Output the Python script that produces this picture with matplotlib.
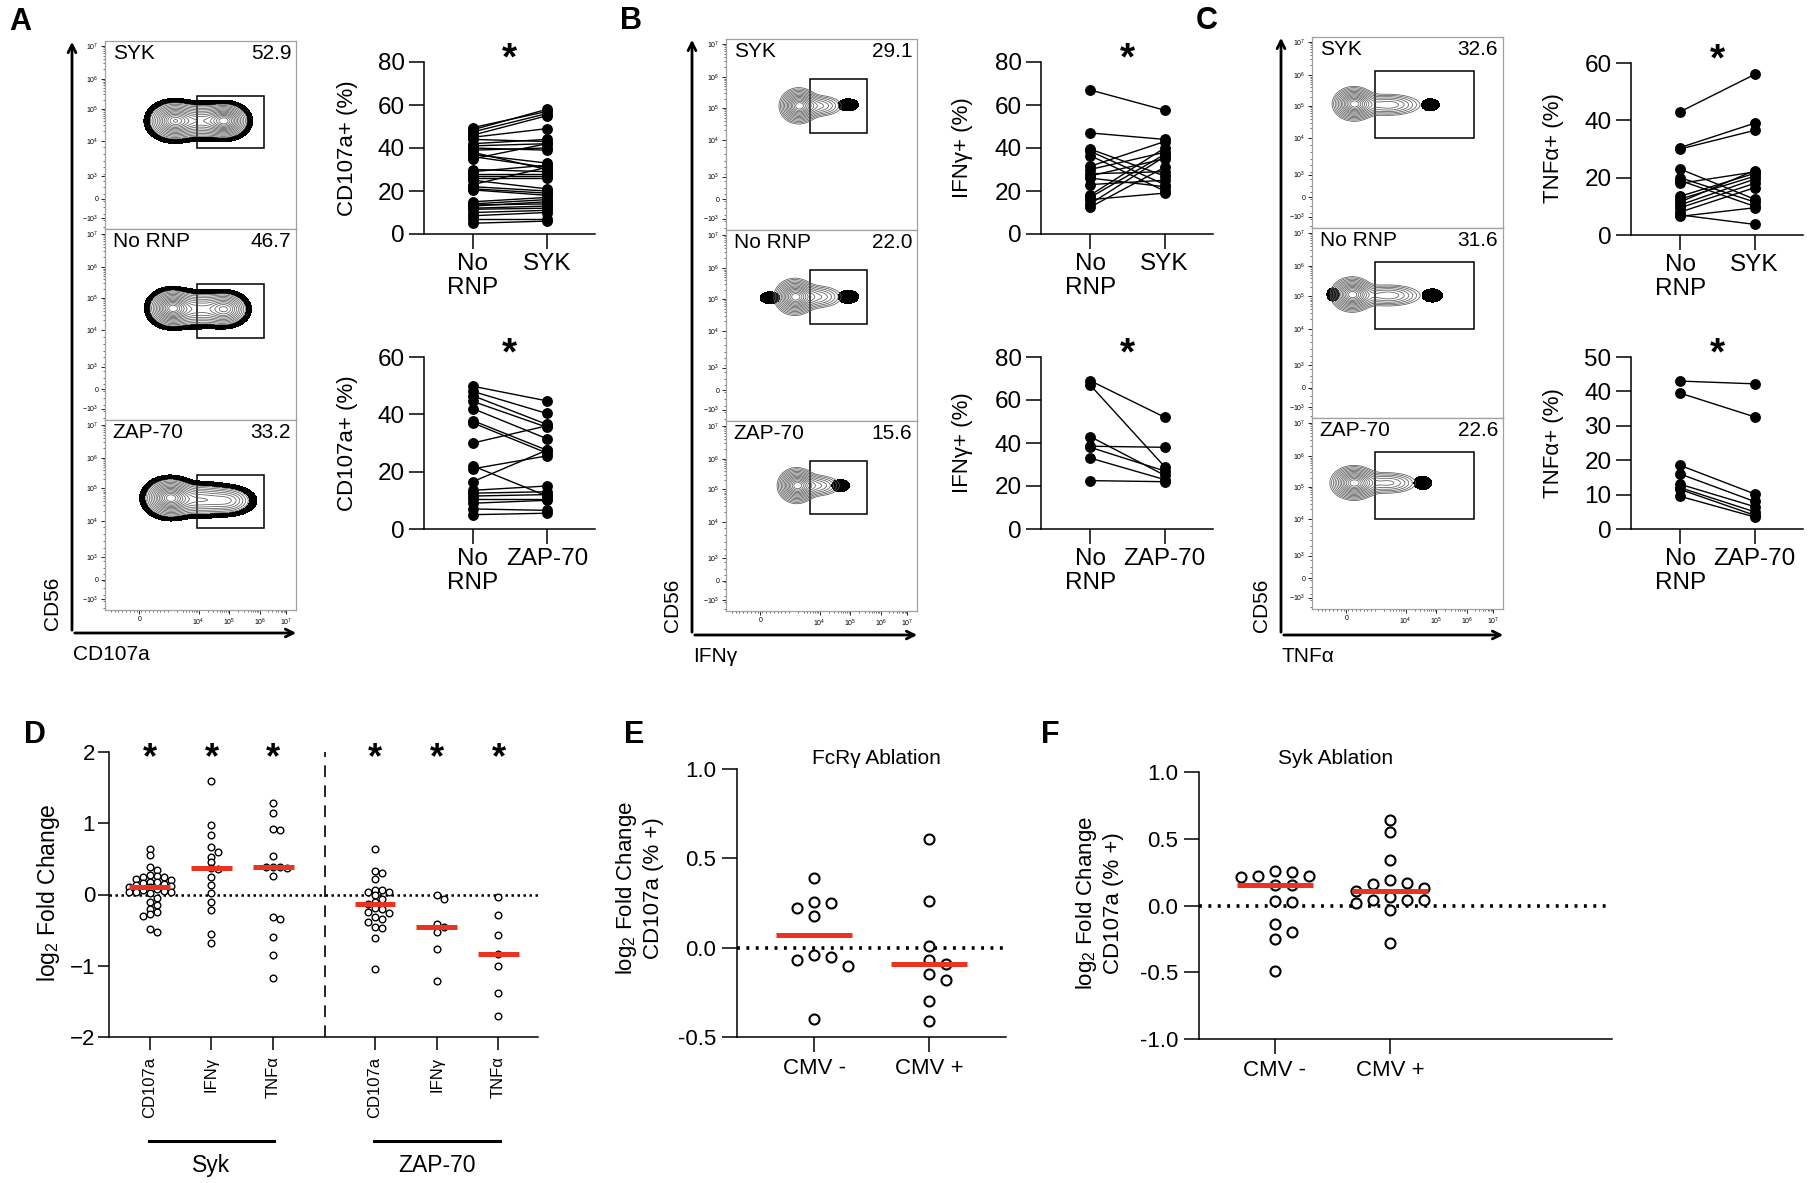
import numpy as np
import matplotlib
matplotlib.use("Agg")
import matplotlib.pyplot as plt
from matplotlib.patches import Rectangle, FancyArrowPatch
from matplotlib.ticker import FormatStrFormatter

plt.rcParams['font.family'] = ['Liberation Sans', 'DejaVu Sans']
plt.rcParams['mathtext.fontset'] = 'custom'
plt.rcParams['mathtext.rm'] = 'Liberation Sans'
plt.rcParams['mathtext.it'] = 'Liberation Sans:italic'
plt.rcParams['mathtext.bf'] = 'Liberation Sans:bold'

# ---- paired data (% positive) ----
cd107_syk_norp = [49.5, 48.5, 47.5, 46, 45, 44, 42, 41, 40, 39, 38, 37, 36, 35, 30, 29, 28,
                  27, 26, 25, 23, 22, 21, 20.5, 15, 14, 13.5, 13, 12, 11.5, 10, 8.5, 7, 5]
cd107_syk_syk = [57, 58, 56, 55, 49, 43, 44, 42, 39, 40, 30, 33, 31, 42, 29, 32, 28,
                 27, 26, 21, 31, 20, 19, 18, 17, 16, 14, 15, 13, 12, 11, 10, 7, 6]
cd107_zap_norp = [49.8, 48, 46.5, 44.5, 42, 37.8, 37, 30, 22, 21, 16.5, 13.5, 12.5, 11.5, 10.5, 9, 7, 5]
cd107_zap_zap = [44.7, 40.3, 36.5, 35.5, 31.5, 27.5, 26.5, 36, 11.5, 25.5, 27.5, 15, 13, 12, 10.5, 10, 6.5, 5.5]

ifng_syk_norp = [67, 47, 39.5, 38.5, 36.5, 31.5, 30, 28, 27, 26, 23, 18, 17, 16, 14, 12.5]
ifng_syk_syk = [57.6, 44, 27, 23, 20, 43, 38, 29, 35, 22, 25, 40, 37, 19, 36, 31]
ifng_zap_norp = [69, 67, 43, 38.5, 38, 33, 22.5]
ifng_zap_zap = [52, 29, 25, 38, 27, 23, 22]

tnfa_syk_norp = [43, 30.5, 30, 23, 20, 19, 18, 13.5, 12.5, 11.5, 10.5, 9.5, 8, 7, 6.5]
tnfa_syk_syk = [56, 39, 36.5, 12.5, 11.5, 10, 22, 21.5, 20.5, 22.5, 19.5, 18, 16.5, 3.7, 9.5]
tnfa_zap_norp = [43, 39.5, 18.5, 16, 13, 12, 11.5, 9.5]
tnfa_zap_zap = [42.2, 32.6, 10.2, 8, 6.5, 5, 4, 3.5]

# ---- panel D, log2 fold change ----
d_labels = ['CD107a', 'IFN\u03b3', 'TNF\u03b1', 'CD107a', 'IFN\u03b3', 'TNF\u03b1']
d_syk_cd107a = [0.64, 0.56, 0.38, 0.34, 0.27, 0.26, 0.25, 0.24, 0.22, 0.20, 0.18, 0.17, 0.16, 0.15,
                0.14, 0.12, 0.11, 0.10, 0.08, 0.06, 0.05, 0.04, 0.03, 0.03, 0.02, -0.05, -0.10,
                -0.15, -0.20, -0.25, -0.28, -0.30, -0.48, -0.53]
d_syk_ifng = [1.59, 0.97, 0.83, 0.67, 0.60, 0.53, 0.45, 0.37, 0.36, 0.24, 0.13, 0.02, -0.10, -0.22, -0.55, -0.68]
d_syk_tnfa = [1.28, 1.15, 0.92, 0.91, 0.54, 0.38, 0.38, 0.38, 0.37, 0.26, -0.31, -0.34, -0.60, -0.85, -1.17]
d_zap_cd107a = [0.64, 0.33, 0.30, 0.22, 0.07, 0.06, 0.04, 0.04, -0.01, -0.06, -0.11, -0.13, -0.19,
                -0.20, -0.25, -0.26, -0.32, -0.34, -0.39, -0.46, -0.47, -0.61, -1.04]
d_zap_ifng = [0.0, -0.06, -0.42, -0.46, -0.52, -0.76, -1.21]
d_zap_tnfa = [-0.03, -0.29, -0.57, -0.83, -1.0, -1.38, -1.71]

# ---- panels E, F ----
cmv_labels = ['CMV -', 'CMV +']
e_cmv_neg = [0.39, 0.255, 0.25, 0.22, 0.18, -0.04, -0.05, -0.07, -0.10, -0.40]
e_cmv_pos = [0.61, 0.26, 0.01, -0.07, -0.09, -0.15, -0.18, -0.30, -0.41]
f_cmv_neg = [0.26, 0.25, 0.22, 0.22, 0.21, 0.15, 0.15, 0.03, 0.025, -0.14, -0.20, -0.25, -0.49]
f_cmv_pos = [0.64, 0.55, 0.34, 0.19, 0.17, 0.16, 0.13, 0.11, 0.06, 0.04, 0.04, 0.04, 0.02, -0.03, -0.28]

# ---- flow plots: percentages and population shapes (x, y, sx, sy, weight) ----
flow_names = ['SYK', 'No RNP', 'ZAP-70']
a_pct = ['52.9', '46.7', '33.2']
b_pct = ['29.1', '22.0', '15.6']
c_pct = ['32.6', '31.6', '22.6']
a_blobs = [
    [(0.36, 0.575, 0.055, 0.042, 1.0), (0.50, 0.575, 0.075, 0.040, 0.6), (0.63, 0.575, 0.05, 0.038, 1.05)],
    [(0.35, 0.585, 0.05, 0.040, 1.2), (0.49, 0.580, 0.08, 0.040, 0.55), (0.63, 0.58, 0.05, 0.037, 0.8)],
    [(0.34, 0.590, 0.055, 0.042, 1.3), (0.50, 0.580, 0.09, 0.038, 0.55), (0.65, 0.575, 0.06, 0.033, 0.35)],
]
b_blobs = [
    [(0.38, 0.65, 0.045, 0.042, 1.0), (0.49, 0.65, 0.065, 0.03, 0.35)],
    [(0.36, 0.65, 0.048, 0.043, 1.0), (0.48, 0.65, 0.07, 0.032, 0.35)],
    [(0.37, 0.66, 0.045, 0.042, 1.0), (0.48, 0.66, 0.065, 0.03, 0.35)],
]
b_dots = [
    [(0.64, 0.655, 0.037, 0.022, 1.0)],
    [(0.64, 0.65, 0.037, 0.024, 1.0), (0.23, 0.645, 0.035, 0.022, 1.0)],
    [(0.60, 0.66, 0.032, 0.022, 1.0)],
]
c_blobs = [
    [(0.22, 0.65, 0.05, 0.04, 1.0), (0.40, 0.645, 0.09, 0.03, 0.4)],
    [(0.21, 0.65, 0.05, 0.041, 1.0), (0.40, 0.645, 0.09, 0.03, 0.4)],
    [(0.22, 0.66, 0.055, 0.04, 1.0), (0.40, 0.66, 0.08, 0.03, 0.35)],
]
c_dots = [
    [(0.62, 0.645, 0.032, 0.022, 1.0)],
    [(0.63, 0.645, 0.037, 0.024, 1.0), (0.11, 0.65, 0.022, 0.024, 1.0)],
    [(0.58, 0.66, 0.032, 0.024, 1.0)],
]

W, H = 1810, 1183
fig = plt.figure(figsize=(W / 100, H / 100), dpi=100)


def px_axes(l, t, r, b):
    return fig.add_axes([l / W, 1 - b / H, (r - l) / W, (b - t) / H])


def ftext(x, y, s, **kw):
    fig.text(x / W, 1 - y / H, s, **kw)


def arrow(x0, y0, x1, y1):
    fig.add_artist(FancyArrowPatch((x0 / W, 1 - y0 / H), (x1 / W, 1 - y1 / H),
                                   transform=fig.transFigure, arrowstyle='->',
                                   mutation_scale=14, lw=2.0, color='black'))


GRID = np.linspace(0, 1, 300)
GX, GY = np.meshgrid(GRID, GRID)
FLOW_LEVELS = [0.07, 0.1, 0.14, 0.19, 0.25, 0.32, 0.40, 0.48, 0.57, 0.66, 0.75, 0.84, 0.92]
FLOW_Y_POS = [0.975, 0.80, 0.64, 0.47, 0.28, 0.16, 0.06]
FLOW_Y_LAB = ['$10^7$', '$10^6$', '$10^5$', '$10^4$', '$10^3$', '0', '$-10^3$']
FLOW_X_POS = [0.18, 0.49, 0.65, 0.81, 0.95]
FLOW_X_LAB = ['0', '$10^4$', '$10^5$', '$10^6$', '$10^7$']


def density(blobs):
    z = np.zeros_like(GX)
    for x0, y0, sx, sy, w in blobs:
        z += w * np.exp(-((GX - x0) ** 2 / (2 * sx ** 2) + (GY - y0) ** 2 / (2 * sy ** 2)))
    return z / z.max()


def log_minor(pos):
    out = []
    for a, b in zip(pos[:-1], pos[1:]):
        for k in range(2, 10):
            out.append(a + (b - a) * np.log10(k))
    return out


def draw_flow(ax, blobs, dots, rim, gate, name, pct, bottom):
    ax.set_xlim(0, 1)
    ax.set_ylim(0, 1)
    z = density(blobs)
    if rim:
        ax.contourf(GX, GY, z, levels=[0.015, 0.055], colors='black')
    ax.contour(GX, GY, z, levels=FLOW_LEVELS, colors='#5a5a5a', linewidths=0.55)
    for d in dots:
        ax.contourf(GX, GY, density([d]), levels=[0.35, 2], colors='black')
    x0, y0, x1, y1 = gate
    ax.add_patch(Rectangle((x0, y0), x1 - x0, y1 - y0, fill=False, ec='black', lw=1.1))
    ax.text(0.04, 0.985, name, ha='left', va='top', fontsize=15, transform=ax.transAxes)
    ax.text(0.975, 0.985, pct, ha='right', va='top', fontsize=15, transform=ax.transAxes)
    for s in ax.spines.values():
        s.set_color('#a0a0a0')
        s.set_linewidth(0.9)
    ypos = sorted(FLOW_Y_POS)
    ax.set_yticks(FLOW_Y_POS)
    ax.set_yticklabels(FLOW_Y_LAB)
    ax.set_yticks(log_minor(ypos[3:]) + list(np.linspace(0.01, ypos[3], 14)), minor=True)
    ax.tick_params(axis='y', which='major', length=3, width=0.6, labelsize=5, pad=1.5)
    ax.tick_params(axis='y', which='minor', length=1.5, width=0.4)
    if bottom:
        ax.set_xticks(FLOW_X_POS)
        ax.set_xticklabels(FLOW_X_LAB)
        ax.set_xticks(log_minor([0.33] + FLOW_X_POS[1:]) + list(np.linspace(0.03, 0.33, 16)), minor=True)
        ax.tick_params(axis='x', which='major', length=3, width=0.6, labelsize=5, pad=1.5)
        ax.tick_params(axis='x', which='minor', length=1.5, width=0.4)
    else:
        ax.set_xticks([])


def flow_column(l, r, tops, bottom, blobs, dots, rim, gate, pcts, arrow_x, arrow_y, xlab, xlab_x):
    edges = list(tops) + [bottom]
    for i in range(3):
        ax = px_axes(l, edges[i], r, edges[i + 1])
        draw_flow(ax, blobs[i], dots[i], rim, gate, flow_names[i], pcts[i], i == 2)
    arrow(arrow_x, arrow_y, arrow_x, tops[0] - 2)
    arrow(arrow_x, arrow_y, r + 3, arrow_y)
    ftext(arrow_x - 20, arrow_y - 30, 'CD56', rotation=90, ha='center', va='center', fontsize=15)
    ftext(xlab_x, arrow_y + 22, xlab, ha='left', va='center', fontsize=15)


def draw_paired(ax, before, after, ymax, ystep, right_label):
    for b, a in zip(before, after):
        ax.plot([0, 1], [b, a], color='black', lw=1.0, marker='o', ms=6.8,
                mfc='black', mec='black', clip_on=False, zorder=3)
    ax.set_xlim(-0.66, 1.65)
    ax.set_ylim(0, ymax)
    ax.set_yticks(np.arange(0, ymax + 1, ystep))
    ax.set_xticks([0, 1])
    ax.set_xticklabels(['No\nRNP', right_label], linespacing=1.1)
    for s in ['top', 'right']:
        ax.spines[s].set_visible(False)
    for s in ['left', 'bottom']:
        ax.spines[s].set_linewidth(1.1)
    ax.tick_params(length=11, width=1.1, labelsize=17.5, pad=3)
    ax.annotate('*', xy=(0.5, 1.0), xycoords=('data', 'axes fraction'), xytext=(0, -5.5),
                textcoords='offset points', ha='center', va='baseline',
                fontsize=28, fontweight='bold')


def swarm(vals, ypx, xpx, step, mind):
    order = np.argsort(vals)[::-1]
    placed = []
    offs = np.zeros(len(vals))
    cands = [0.0]
    for j in range(1, 20):
        cands += [j * step, -j * step]
    for i in order:
        y = vals[i] * ypx
        for c in cands:
            if all(np.hypot(c - px, y - py) >= mind for px, py in placed):
                break
        placed.append((c, y))
        offs[i] = c / xpx
    return offs


def dot_groups(ax, groups, pos, ypx, xpx, step, mind, ms, mew, half):
    for vals, p in zip(groups, pos):
        v = np.array(vals)
        offs = swarm(v, ypx, xpx, step, mind)
        ax.plot(p + offs, v, 'o', ms=ms, mfc='white', mec='black', mew=mew, ls='none',
                zorder=2, clip_on=False)
        med = np.median(v)
        ax.plot([p - half, p + half], [med, med], color='#ea3323', lw=3.6,
                solid_capstyle='butt', zorder=3)


# ================= flow columns =================
flow_column(105, 296, [41, 229, 420], 610, a_blobs, [[], [], []], True,
            (0.48, 0.43, 0.83, 0.71), a_pct, 72, 633, 'CD107a', 73)
flow_column(726, 917, [39, 230, 421], 611, b_blobs, b_dots, False,
            (0.44, 0.51, 0.74, 0.79), b_pct, 692, 635, 'IFN\u03b3', 693)
flow_column(1312, 1503, [37, 228, 418], 609, c_blobs, c_dots, False,
            (0.33, 0.47, 0.85, 0.82), c_pct, 1281, 635, 'TNF\u03b1', 1281)

# ================= paired plots =================
pairs = [
    (424, 595, 62, 234, cd107_syk_norp, cd107_syk_syk, 80, 20, 'SYK'),
    (424, 595, 357, 529, cd107_zap_norp, cd107_zap_zap, 60, 20, 'ZAP-70'),
    (1041, 1213, 62, 234, ifng_syk_norp, ifng_syk_syk, 80, 20, 'SYK'),
    (1041, 1213, 357, 529, ifng_zap_norp, ifng_zap_zap, 80, 20, 'ZAP-70'),
    (1631, 1803, 63, 235, tnfa_syk_norp, tnfa_syk_syk, 60, 20, 'SYK'),
    (1631, 1803, 357, 529, tnfa_zap_norp, tnfa_zap_zap, 50, 10, 'ZAP-70'),
]
for l, r, t, b, before, after, ymax, ystep, lab in pairs:
    ax = px_axes(l, t, r, b)
    draw_paired(ax, before, after, ymax, ystep, lab)

for x, lab in [(347, 'CD107a+ (%)'), (962, 'IFN\u03b3+ (%)'), (1553, 'TNF\u03b1+ (%)')]:
    ftext(x, 148, lab, rotation=90, ha='center', va='center', fontsize=16)
    ftext(x, 443, lab, rotation=90, ha='center', va='center', fontsize=16)

# ================= panel D =================
d_groups = [d_syk_cd107a, d_syk_ifng, d_syk_tnfa, d_zap_cd107a, d_zap_ifng, d_zap_tnfa]
d_pos = [0, 1, 2, 3.65, 4.65, 5.65]
axD = px_axes(109, 752, 538, 1037)
axD.set_xlim(-0.66, 6.29)
axD.set_ylim(-2, 2)
axD.axhline(0, color='black', ls=(0, (1, 1.4)), lw=1.8, zorder=1)
axD.plot([2.84, 2.84], [-2, 2], color='black', ls=(0, (7, 5)), lw=1.2)
dot_groups(axD, d_groups, d_pos, 285 / 4, 61.7, 7.0, 5.6, 4.8, 1.0, 0.33)
axD.set_yticks([-2, -1, 0, 1, 2])
axD.set_xticks(d_pos)
axD.set_xticklabels(d_labels, rotation=90, fontsize=12)
axD.tick_params(axis='y', length=8, width=1.1, labelsize=16, pad=2)
axD.tick_params(axis='x', length=9, width=1.1, pad=5)
for s in ['top', 'right']:
    axD.spines[s].set_visible(False)
for s in ['left', 'bottom']:
    axD.spines[s].set_linewidth(1.1)
for p in d_pos:
    axD.annotate('*', xy=(p, 1.0), xycoords=('data', 'axes fraction'), xytext=(0, -12),
                 textcoords='offset points', ha='center', va='baseline',
                 fontsize=26, fontweight='bold')
tr = axD.get_xaxis_transform()
axD.plot([-0.02, 2.02], [-0.365, -0.365], transform=tr, clip_on=False, color='black', lw=2.2)
axD.plot([3.63, 5.67], [-0.365, -0.365], transform=tr, clip_on=False, color='black', lw=2.2)
axD.text(1, -0.45, 'Syk', transform=tr, ha='center', va='center', fontsize=16.5)
axD.text(4.65, -0.45, 'ZAP-70', transform=tr, ha='center', va='center', fontsize=16.5)
ftext(48, 893, 'log$_2$ Fold Change', rotation=90, ha='center', va='center', fontsize=16.5)


# ================= panels E, F =================
def ef_axes(ax, groups, xlim, yticks, ypx, title, tx):
    ax.set_xlim(xlim[0], xlim[1])
    ax.set_ylim(yticks[0], yticks[-1])
    ax.axhline(0, color='black', ls=(0, (0.8, 1.8)), lw=2.6, zorder=1)
    dot_groups(ax, groups, [0, 1], ypx, 115, 17, 11, 7.2, 1.5, 0.33)
    ax.set_yticks(yticks)
    ax.yaxis.set_major_formatter(FormatStrFormatter('%.1f'))
    ax.set_xticks([0, 1])
    ax.set_xticklabels(cmv_labels)
    ax.tick_params(length=11, width=1.1, pad=4, labelsize=16)
    for s in ['top', 'right']:
        ax.spines[s].set_visible(False)
    for s in ['left', 'bottom']:
        ax.spines[s].set_linewidth(1.1)
    ftext(tx, 759, title, ha='center', va='center', fontsize=15)


axE = px_axes(737, 769, 1006, 1037)
ef_axes(axE, [e_cmv_neg, e_cmv_pos], (-0.67, 1.67), [-0.5, 0.0, 0.5, 1.0], 268 / 1.5,
        'FcR\u03b3 Ablation', 876)
ftext(639, 888, 'log$_2$ Fold Change\nCD107a (% +)', rotation=90, ha='center', va='center',
      fontsize=16, linespacing=1.2)

axF = px_axes(1199, 772, 1612, 1039)
ef_axes(axF, [f_cmv_neg, f_cmv_pos], (-0.66, 2.93), [-1.0, -0.5, 0.0, 0.5, 1.0], 267 / 2,
        'Syk Ablation', 1336)
ftext(1099, 903, 'log$_2$ Fold Change\nCD107a (% +)', rotation=90, ha='center', va='center',
      fontsize=16, linespacing=1.2)

# ================= panel letters =================
for x, y, s in [(20, 22, 'A'), (631, 21, 'B'), (1207, 21, 'C'),
                (35, 735, 'D'), (634, 735, 'E'), (1050, 735, 'F')]:
    ftext(x, y, s, ha='center', va='center', fontsize=22, fontweight='bold')

fig.savefig('out.png', dpi=100)
